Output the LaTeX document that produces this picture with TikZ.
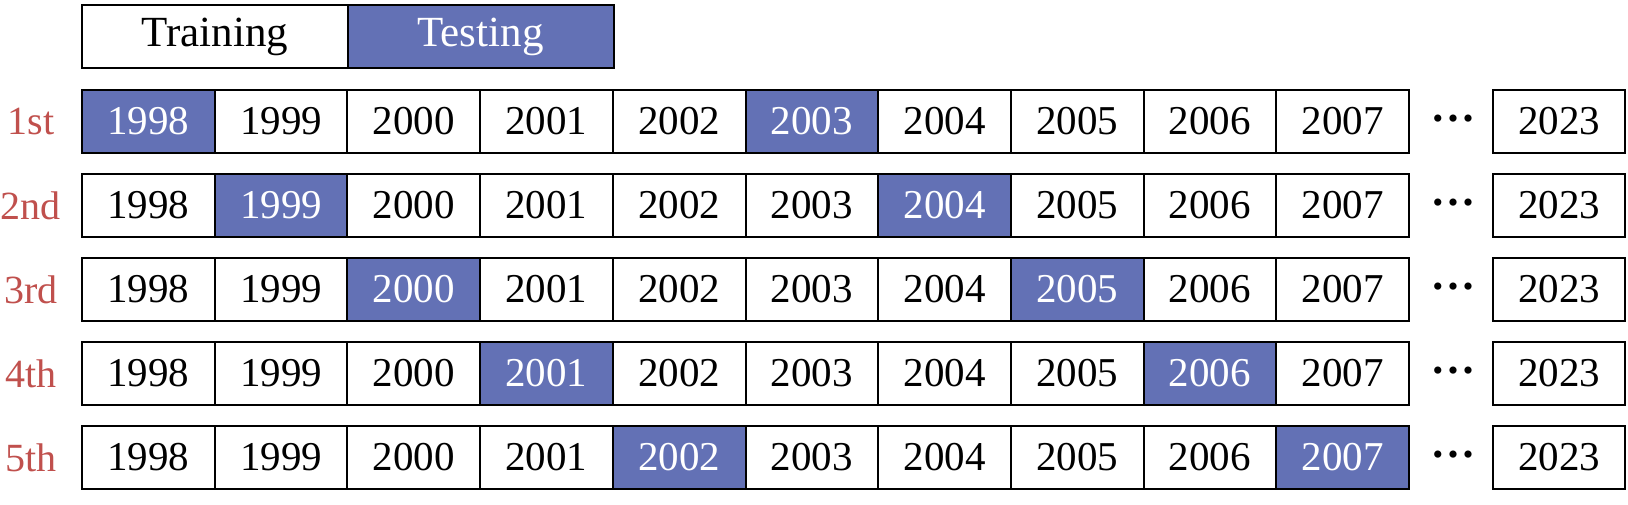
\documentclass[tikz,border=0pt]{standalone}
\usepackage{fontspec}
\setmainfont{Liberation Serif}
\definecolor{tblue}{RGB}{99,113,181}
\definecolor{tred}{RGB}{192,80,77}
\begin{document}
\begin{tikzpicture}[x=0.5pt,y=-0.5pt,
 cell/.style={draw=black,line width=1pt,minimum width=66.35pt,minimum height=31.5pt,inner sep=0pt,font=\fontsize{20.5}{20.5}\selectfont,fill=white,text=black},
 hot/.style={fill=tblue,text=white},
 plain/.style={},
 lbl/.style={text=tred,font=\fontsize{20}{20}\selectfont},
 dots/.style={font=\fontsize{15}{15}\selectfont,inner sep=0pt},
 leg/.style={cell,minimum width=133pt,font=\fontsize{21.5}{21.5}\selectfont}]
\useasboundingbox (0,0) rectangle (1628,504);
\node[leg] (train) at (215,36.5) {Training};
\node[leg,hot] (test) at (480.5,36.5) {Testing};
\foreach \r/\lab in {1/1st,2/2nd,3/3rd,4/4th,5/5th}{
  \pgfmathsetmacro\yy{121.5+84*(\r-1)}
  \node[lbl] (l\r) at (31,\yy) {\lab};
  \foreach \c in {1,...,10}{
    \pgfmathtruncatemacro\yr{1997+\c}
    \ifnum\c=\r \def\st{hot}\else\ifnum\c=\numexpr\r+5\relax \def\st{hot}\else\def\st{plain}\fi\fi
    \node[cell,\st] (r\r c\c) at ({82+132.7*(\c-0.5)},\yy) {\yr};
  }
  \node[dots] (d\r) at (1453,\yy) {•\hspace{2.3pt}•\hspace{2.3pt}•};
  \node[cell] (e\r) at (1559,\yy) {2023};
}
\end{tikzpicture}
\end{document}
